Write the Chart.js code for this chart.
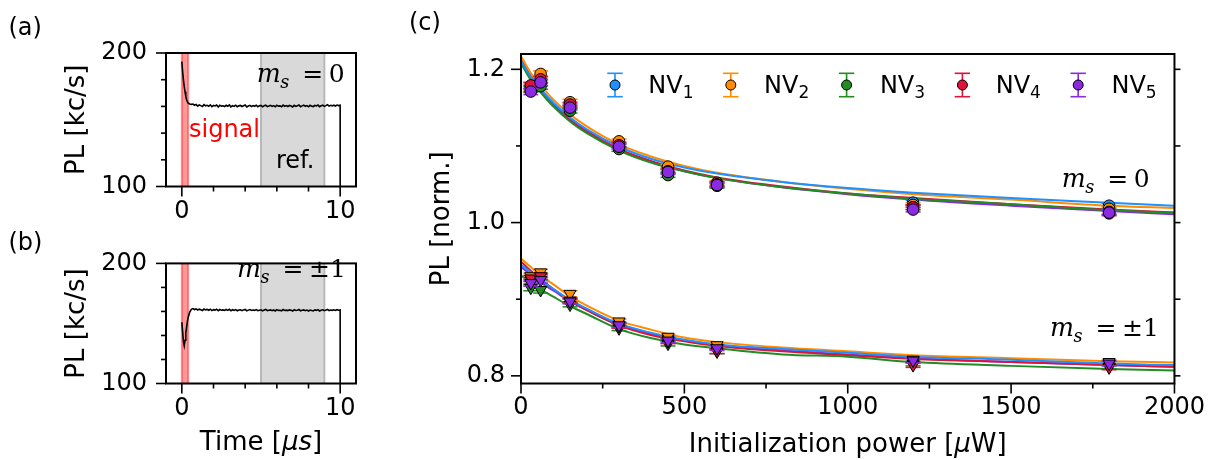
<!DOCTYPE html>
<html><head><meta charset="utf-8">
<script src="https://cdn.jsdelivr.net/npm/chart.js@4/dist/chart.umd.min.js"></script>
<style>
html,body{margin:0;padding:0;background:#fff;}
#wrap{position:relative;width:1215px;height:460px;overflow:hidden;background:#fff;}
canvas{position:absolute;}
</style></head><body>
<div id="wrap">
<canvas id="ca" width="400" height="230" style="left:0;top:0;width:400px;height:230px"></canvas>
<canvas id="cb" width="400" height="230" style="left:0;top:230px;width:400px;height:230px"></canvas>
<canvas id="cc" width="815" height="460" style="left:400px;top:0;width:815px;height:460px"></canvas>
</div>
<script>
// ---------------- DATA ----------------
// Panels (a),(b): PL time traces [kc/s] vs time [us]
const timeUs = [0,0.05,0.1,0.15,0.2,0.25,0.3,0.35,0.4,0.5,0.6,
0.7,0.8,0.9,1.0,1.1,1.2,1.3,1.4,1.5,1.6,
1.7,1.8,1.9,2.0,2.1,2.2,2.3,2.4,2.5,2.6,
2.7,2.8,2.9,3.0,3.1,3.2,3.3,3.4,3.5,3.6,
3.7,3.8,3.9,4.0,4.1,4.2,4.3,4.4,4.5,4.6,
4.7,4.8,4.9,5.0,5.1,5.2,5.3,5.4,5.5,5.6,
5.7,5.8,5.9,6.0,6.1,6.2,6.3,6.4,6.5,6.6,
6.7,6.8,6.9,7.0,7.1,7.2,7.3,7.4,7.5,7.6,
7.7,7.8,7.9,8.0,8.1,8.2,8.3,8.4,8.5,8.6,
8.7,8.8,8.9,9.0,9.1,9.2,9.3,9.4,9.5,9.6,
9.7,9.8,9.9,10.0,10.0];
const plMs0 = [193.5,186,180,175,171,167.5,165,163.5,162.5,161.8,161.5,
161.8,160.9,161.5,160.2,161.1,160.6,159.9,161.3,160.4,160.8,
160.1,161.2,159.8,160.7,160.3,161.0,159.6,160.9,160.2,160.5,
159.9,160.8,160.1,161.1,159.7,160.6,160.0,160.9,159.8,160.4,
160.7,159.9,160.5,161.0,159.6,160.3,160.8,159.9,160.6,160.1,
160.9,159.8,160.4,160.7,159.7,160.5,161.0,159.9,160.3,160.8,
160.0,160.6,159.7,160.9,160.2,160.4,159.8,161.0,160.1,160.6,
159.9,160.7,160.3,159.6,160.8,160.0,160.5,161.1,159.8,160.4,
160.9,160.1,160.6,159.7,160.8,160.2,159.9,160.7,160.4,161.0,
159.8,160.5,160.9,160.0,160.6,161.3,160.2,160.8,160.4,160.9,
160.3,161.0,160.6,160.9,0];
const plMs1 = [151,143,135,131.5,136,142,147,151.5,155,159.5,161.8,
162.4,161.6,162.1,161.2,161.9,161.4,160.8,162.0,161.3,161.7,
161.0,161.9,160.7,161.5,161.1,161.8,160.6,161.6,161.0,161.3,
160.8,161.6,160.9,161.8,160.5,161.4,160.9,161.5,160.6,161.2,
161.4,160.7,161.3,161.7,160.5,161.1,161.6,160.8,161.2,160.9,
161.5,160.6,161.0,161.4,160.5,161.2,161.7,160.7,161.0,161.3,
160.6,161.2,160.4,161.5,160.9,161.0,160.5,161.6,160.8,161.1,
160.7,161.3,160.9,160.3,161.4,160.8,161.0,161.6,160.5,160.9,
161.3,160.6,161.1,160.4,161.2,160.8,160.5,161.3,160.9,161.5,
160.4,161.0,161.4,160.6,161.1,161.7,160.7,161.2,160.9,161.4,
160.8,161.5,161.0,161.3,0];
const signalWindowUs = [0, 0.4];
const refWindowUs = [5, 9];
const traceXTicksMajor = [0, 10];
const traceXTicksMinor = [2, 4, 6, 8];
const traceYTicksMajor = [100, 200];
const traceYTicksMinor = [120, 140, 160, 180];

// Panel (c): normalised PL vs initialization power [uW]
const nvNames = ['NV1','NV2','NV3','NV4','NV5'];
const powerUW = [30, 60, 150, 300, 450, 600, 1200, 1800];
const nv1Ms0 = [1.175, 1.182, 1.152, 1.102, 1.069, 1.051, 1.026, 1.022];
const nv2Ms0 = [1.177, 1.194, 1.157, 1.106, 1.073, 1.052, 1.023, 1.018];
const nv3Ms0 = [1.174, 1.178, 1.146, 1.096, 1.062, 1.048, 1.020, 1.014];
const nv4Ms0 = [1.179, 1.187, 1.154, 1.101, 1.067, 1.050, 1.020, 1.012];
const nv5Ms0 = [1.171, 1.183, 1.150, 1.099, 1.066, 1.049, 1.017, 1.013];
const nv1Ms1 = [0.924, 0.928, 0.899, 0.867, 0.848, 0.837, 0.820, 0.816];
const nv2Ms1 = [0.930, 0.935, 0.907, 0.871, 0.851, 0.840, 0.821, 0.818];
const nv3Ms1 = [0.915, 0.912, 0.893, 0.862, 0.842, 0.832, 0.816, 0.812];
const nv4Ms1 = [0.927, 0.930, 0.898, 0.865, 0.845, 0.832, 0.814, 0.811];
const nv5Ms1 = [0.921, 0.925, 0.897, 0.866, 0.846, 0.836, 0.820, 0.816];
const nv1Err = [0.004, 0.004, 0.003, 0.003, 0.003, 0.003, 0.003, 0.003];
const nv2Err = [0.004, 0.004, 0.004, 0.003, 0.003, 0.003, 0.003, 0.003];
const nv3Err = [0.004, 0.004, 0.003, 0.003, 0.003, 0.003, 0.003, 0.003];
const nv4Err = [0.004, 0.004, 0.003, 0.003, 0.003, 0.003, 0.003, 0.003];
const nv5Err = [0.004, 0.004, 0.003, 0.003, 0.003, 0.003, 0.003, 0.003];
// fitted curves
const fitPowerUW = [0, 30, 60, 100, 150, 200, 300, 400, 500, 600, 800, 1000, 1200, 1500, 1800, 2000];
const nv1FitMs0 = [1.211, 1.190, 1.174, 1.156, 1.137, 1.122, 1.099, 1.083, 1.072, 1.064, 1.053, 1.045, 1.039, 1.032, 1.026, 1.022];
const nv2FitMs0 = [1.217, 1.195, 1.179, 1.160, 1.141, 1.126, 1.102, 1.086, 1.074, 1.065, 1.053, 1.044, 1.037, 1.030, 1.022, 1.019];
const nv3FitMs0 = [1.208, 1.186, 1.170, 1.151, 1.132, 1.117, 1.094, 1.078, 1.067, 1.058, 1.046, 1.038, 1.031, 1.024, 1.016, 1.013];
const nv4FitMs0 = [1.213, 1.191, 1.174, 1.155, 1.135, 1.120, 1.096, 1.080, 1.068, 1.059, 1.047, 1.038, 1.032, 1.024, 1.017, 1.013];
const nv5FitMs0 = [1.210, 1.189, 1.172, 1.153, 1.134, 1.119, 1.095, 1.079, 1.067, 1.058, 1.046, 1.037, 1.030, 1.022, 1.015, 1.011];
const nv1FitMs1 = [0.945, 0.935, 0.925, 0.913, 0.899, 0.888, 0.868, 0.856, 0.847, 0.841, 0.835, 0.830, 0.825, 0.821, 0.816, 0.814];
const nv2FitMs1 = [0.953, 0.942, 0.931, 0.919, 0.904, 0.892, 0.872, 0.860, 0.850, 0.844, 0.837, 0.832, 0.827, 0.823, 0.819, 0.8175];
const nv3FitMs1 = [0.931, 0.922, 0.913, 0.903, 0.891, 0.881, 0.861, 0.849, 0.841, 0.836, 0.828, 0.825, 0.818, 0.813, 0.809, 0.807];
const nv4FitMs1 = [0.949, 0.937, 0.926, 0.913, 0.898, 0.886, 0.866, 0.853, 0.845, 0.839, 0.832, 0.827, 0.822, 0.818, 0.814, 0.812];
const nv5FitMs1 = [0.942, 0.932, 0.922, 0.911, 0.897, 0.886, 0.866, 0.854, 0.846, 0.840, 0.833, 0.828, 0.823, 0.818, 0.814, 0.812];
const powerTicksMajor = [0, 500, 1000, 1500, 2000];
const powerTicksMinor = [250, 750, 1250, 1750];
const plTicksMajor = [0.8, 1.0, 1.2];
const plTicksMinor = [0.9, 1.1];

// ---------------- STYLE / HELPERS ----------------
const nvColors = ['#1E90FF', '#FF8C00', '#228B22', '#DC143C', '#8A2BE2'];
const SANS = "'DejaVu Sans', sans-serif";
const SERIF = "'DejaVu Serif', serif";
Chart.defaults.font.family = SANS;
Chart.defaults.font.size = 24;
Chart.defaults.color = '#000';
Chart.defaults.animation = false;

function pairs(xs, ys) { return xs.map((x, i) => ({x: x, y: ys[i]})); }
function seg(ctx, x1, y1, x2, y2) { ctx.beginPath(); ctx.moveTo(x1, y1); ctx.lineTo(x2, y2); ctx.stroke(); }

function framePlugin(spec) {
  return { id: 'frame', afterDatasetsDraw(chart) {
    const ctx = chart.ctx, a = chart.chartArea, xs = chart.scales.x, ys = chart.scales.y;
    ctx.save(); ctx.strokeStyle = '#000'; ctx.lineWidth = 1.6;
    spec.xMajor.forEach(v => { const p = xs.getPixelForValue(v); seg(ctx, p, a.bottom, p, a.bottom + 10); });
    spec.xMinor.forEach(v => { const p = xs.getPixelForValue(v); seg(ctx, p, a.bottom, p, a.bottom + 5); });
    spec.yMajor.forEach(v => { const p = ys.getPixelForValue(v); seg(ctx, a.left - 10, p, a.left, p); });
    spec.yMinor.forEach(v => { const p = ys.getPixelForValue(v); seg(ctx, a.left - 5, p, a.left, p); });
    if (spec.right) spec.right.forEach(v => { const p = ys.getPixelForValue(v); seg(ctx, a.right, p, a.right + 6, p); });
    ctx.lineWidth = 2; ctx.strokeRect(a.left, a.top, a.right - a.left, a.bottom - a.top);
    ctx.restore();
  }};
}

function drawParts(ctx, parts, x, y, align) {
  let w = 0;
  parts.forEach(p => { ctx.font = p.font; p.w = ctx.measureText(p.t).width; w += p.w; });
  let cx = align === 'center' ? x - w / 2 : x;
  ctx.textAlign = 'left';
  parts.forEach(p => { ctx.font = p.font; ctx.fillText(p.t, cx, y + (p.dy || 0)); cx += p.w; });
}
function rotatedText(ctx, text, font, cx, cy) {
  ctx.save(); ctx.translate(cx, cy); ctx.rotate(-Math.PI / 2);
  ctx.font = font; ctx.textAlign = 'center'; ctx.textBaseline = 'middle'; ctx.fillStyle = '#000';
  ctx.fillText(text, 0, 0); ctx.restore();
}
// font size so that a glyph run gets a wanted width
function sizeFor(ctx, text, style, family, targetW) {
  ctx.font = style + ' 100px ' + family;
  return 100 * targetW / ctx.measureText(text).width;
}
function drawMs(ctx, x, yb, valueText) {
  ctx.save(); ctx.fillStyle = '#000'; ctx.textBaseline = 'alphabetic'; ctx.textAlign = 'left';
  const mSize = Math.min(30, sizeFor(ctx, 'm', 'italic', SERIF, 24));
  ctx.font = 'italic ' + mSize.toFixed(1) + 'px ' + SERIF; ctx.fillText('m', x, yb);
  ctx.font = 'italic ' + (mSize * 0.7).toFixed(1) + 'px ' + SERIF; ctx.fillText('s', x + 23.5, yb + 6);
  ctx.font = '300 25px ' + SERIF; ctx.textAlign = 'center'; ctx.fillText('=', x + 56, yb);
  ctx.textAlign = 'left'; ctx.fillText(valueText, x + 72, yb);
  ctx.restore();
}
function spanPlugin() {
  return { id: 'spans', beforeDatasetsDraw(chart) {
    const ctx = chart.ctx, a = chart.chartArea, xs = chart.scales.x;
    ctx.save();
    const r0 = xs.getPixelForValue(refWindowUs[0]), r1 = xs.getPixelForValue(refWindowUs[1]);
    ctx.fillStyle = '#d9d9d9'; ctx.fillRect(r0, a.top, r1 - r0, a.bottom - a.top);
    ctx.strokeStyle = '#b8b8b8'; ctx.lineWidth = 2;
    seg(ctx, r0, a.top, r0, a.bottom); seg(ctx, r1, a.top, r1, a.bottom);
    const s0 = xs.getPixelForValue(signalWindowUs[0]), s1 = xs.getPixelForValue(signalWindowUs[1]);
    ctx.fillStyle = 'rgba(255,70,70,0.55)'; ctx.fillRect(s0, a.top, s1 - s0, a.bottom - a.top);
    ctx.strokeStyle = 'rgba(255,40,40,0.5)'; ctx.lineWidth = 2;
    seg(ctx, s0, a.top, s0, a.bottom); seg(ctx, s1, a.top, s1, a.bottom);
    ctx.restore();
  }};
}

function traceOptions(padTop, xHeight) {
  return {
    responsive: false, animation: false,
    layout: {padding: {left: 0, top: padTop, right: 44, bottom: 0}},
    plugins: {legend: {display: false}, tooltip: {enabled: false}},
    scales: {
      x: {type: 'linear', min: -1, max: 11, grid: {display: false, drawTicks: false}, border: {display: false},
          ticks: {padding: 11, autoSkip: false, maxRotation: 0, minRotation: 0, font: {size: 24}, callback: v => String(v)},
          afterBuildTicks: s => { s.ticks = traceXTicksMajor.map(v => ({value: v})); },
          afterFit: s => { s.height = xHeight; }},
      y: {type: 'linear', min: 100, max: 200, grid: {display: false, drawTicks: false}, border: {display: false},
          ticks: {padding: 19, autoSkip: false, font: {size: 24}, callback: v => String(v)},
          afterBuildTicks: s => { s.ticks = traceYTicksMajor.map(v => ({value: v})); },
          afterFit: s => { s.width = 166; }}
    }
  };
}
const traceFrame = {xMajor: traceXTicksMajor, xMinor: traceXTicksMinor, yMajor: traceYTicksMajor, yMinor: traceYTicksMinor};

// ---------- Panel (a) ----------
new Chart(document.getElementById('ca'), {
  type: 'scatter',
  data: {datasets: [{data: pairs(timeUs, plMs0), showLine: true, borderColor: '#000', borderWidth: 1.6, pointRadius: 0, tension: 0}]},
  options: traceOptions(53, 43.5),
  plugins: [spanPlugin(), framePlugin(traceFrame), {id: 'txtA', afterDraw(chart) {
    const ctx = chart.ctx; const a = chart.chartArea;
    ctx.save(); ctx.fillStyle = '#000'; ctx.textBaseline = 'alphabetic'; ctx.textAlign = 'left';
    ctx.font = '24px ' + SANS; ctx.fillText('(a)', 8.5, 35);
    ctx.fillStyle = '#ff0000'; ctx.fillText('signal', 189, 136.5);
    ctx.fillStyle = '#000'; ctx.fillText('ref.', 276, 168);
    ctx.restore();
    drawMs(ctx, 256.7, 82, '0');
    rotatedText(ctx, 'PL [kc/s]', '26px ' + SANS, 77.5, (a.top + a.bottom) / 2);
  }}]
});

// ---------- Panel (b) ----------
new Chart(document.getElementById('cb'), {
  type: 'scatter',
  data: {datasets: [{data: pairs(timeUs, plMs1), showLine: true, borderColor: '#000', borderWidth: 1.6, pointRadius: 0, tension: 0}]},
  options: traceOptions(20, 76.5),
  plugins: [spanPlugin(), framePlugin(traceFrame), {id: 'txtB', afterDraw(chart) {
    const ctx = chart.ctx; const a = chart.chartArea;
    ctx.save(); ctx.fillStyle = '#000'; ctx.textBaseline = 'alphabetic'; ctx.textAlign = 'left';
    ctx.font = '24px ' + SANS; ctx.fillText('(b)', 8.5, 20);
    drawParts(ctx, [{t: 'Time [', font: '26px ' + SANS}, {t: 'μs', font: 'italic 26px ' + SANS}, {t: ']', font: '26px ' + SANS}],
      (a.left + a.right) / 2, 220, 'center');
    ctx.restore();
    drawMs(ctx, 237, 47, '±1');
    rotatedText(ctx, 'PL [kc/s]', '26px ' + SANS, 77.5, (a.top + a.bottom) / 2);
  }}]
});

// ---------- Panel (c) ----------
const ms0Series = [nv1Ms0, nv2Ms0, nv3Ms0, nv4Ms0, nv5Ms0];
const ms1Series = [nv1Ms1, nv2Ms1, nv3Ms1, nv4Ms1, nv5Ms1];
const errSeries = [nv1Err, nv2Err, nv3Err, nv4Err, nv5Err];
const fit0Series = [nv1FitMs0, nv2FitMs0, nv3FitMs0, nv4FitMs0, nv5FitMs0];
const fit1Series = [nv1FitMs1, nv2FitMs1, nv3FitMs1, nv4FitMs1, nv5FitMs1];

const cDatasets = [];
for (let i = 0; i < 5; i++) {
  cDatasets.push({data: pairs(fitPowerUW, fit0Series[i]), showLine: true, borderColor: nvColors[i], borderWidth: 2,
    pointRadius: 0, cubicInterpolationMode: 'monotone', order: 20});
  cDatasets.push({data: pairs(fitPowerUW, fit1Series[i]), showLine: true, borderColor: nvColors[i], borderWidth: 2,
    pointRadius: 0, cubicInterpolationMode: 'monotone', order: 20});
}
for (let i = 0; i < 5; i++) {
  cDatasets.push({label: nvNames[i], data: pairs(powerUW, ms0Series[i]), errors: errSeries[i], errColor: nvColors[i],
    showLine: false, pointStyle: 'circle', pointRadius: 5.8, pointBackgroundColor: nvColors[i],
    pointBorderColor: '#000', pointBorderWidth: 1, order: 10 - i});
  cDatasets.push({label: nvNames[i], data: pairs(powerUW, ms1Series[i]), errors: errSeries[i], errColor: nvColors[i],
    showLine: false, pointStyle: 'triangle', rotation: 180, pointRotation: 180, pointRadius: 7, pointBackgroundColor: nvColors[i],
    pointBorderColor: '#000', pointBorderWidth: 1, order: 10 - i});
}

const errorBarPlugin = {id: 'errbars', beforeDatasetDraw(chart, args) {
  const ds = chart.data.datasets[args.index];
  if (!ds.errors) return;
  const ctx = chart.ctx, ys = chart.scales.y;
  ctx.save(); ctx.strokeStyle = ds.errColor; ctx.lineWidth = 1.5;
  args.meta.data.forEach((pt, i) => {
    const v = ds.data[i].y, e = ds.errors[i];
    const y1 = ys.getPixelForValue(v - e), y2 = ys.getPixelForValue(v + e), x = pt.x;
    seg(ctx, x, y1, x, y2); seg(ctx, x - 7.5, y1, x + 7.5, y1); seg(ctx, x - 7.5, y2, x + 7.5, y2);
  });
  ctx.restore();
}};

const legendPlugin = {id: 'legendC', afterDraw(chart) {
  const ctx = chart.ctx;
  for (let i = 0; i < 5; i++) {
    const cx = 215 + i * 115.8, cy = 85;
    ctx.save();
    ctx.strokeStyle = nvColors[i]; ctx.lineWidth = 1.6;
    seg(ctx, cx, 73.3, cx, 96.7); seg(ctx, cx - 7.7, 73.3, cx + 7.7, 73.3); seg(ctx, cx - 7.7, 96.7, cx + 7.7, 96.7);
    ctx.beginPath(); ctx.arc(cx, cy, 5, 0, Math.PI * 2); ctx.fillStyle = nvColors[i]; ctx.fill();
    ctx.strokeStyle = '#000'; ctx.lineWidth = 1; ctx.stroke();
    ctx.fillStyle = '#000'; ctx.textBaseline = 'alphabetic';
    const name = nvNames[i];
    drawParts(ctx, [{t: name.slice(0, 2), font: '24px ' + SANS}, {t: name.slice(2), font: '17px ' + SANS, dy: 5}], cx + 33.3, 93.3, 'left');
    ctx.restore();
  }
}};

new Chart(document.getElementById('cc'), {
  type: 'scatter',
  data: {datasets: cDatasets},
  options: {
    responsive: false, animation: false,
    layout: {padding: {left: 0, top: 54, right: 37, bottom: 0}},
    plugins: {legend: {display: false}, tooltip: {enabled: false}},
    scales: {
      x: {type: 'linear', min: 0, max: 2000, grid: {display: false, drawTicks: false}, border: {display: false},
          ticks: {padding: 10, autoSkip: false, maxRotation: 0, minRotation: 0, font: {size: 24}, callback: v => String(v)},
          afterBuildTicks: s => { s.ticks = powerTicksMajor.map(v => ({value: v})); },
          afterFit: s => { s.height = 76.5; }},
      y: {type: 'linear', min: 0.79, max: 1.22, grid: {display: false, drawTicks: false}, border: {display: false},
          ticks: {padding: 16, autoSkip: false, font: {size: 24}, callback: v => Number(v).toFixed(1)},
          afterBuildTicks: s => { s.ticks = plTicksMajor.map(v => ({value: v})); },
          afterFit: s => { s.width = 121; }}
    }
  },
  plugins: [errorBarPlugin, framePlugin({xMajor: powerTicksMajor, xMinor: powerTicksMinor, yMajor: plTicksMajor, yMinor: plTicksMinor,
      right: plTicksMajor.concat(plTicksMinor)}), legendPlugin, {id: 'txtC', afterDraw(chart) {
    const ctx = chart.ctx; const a = chart.chartArea;
    ctx.save(); ctx.fillStyle = '#000'; ctx.textBaseline = 'alphabetic'; ctx.textAlign = 'left';
    ctx.font = '24px ' + SANS; ctx.fillText('(c)', 9, 30);
    drawParts(ctx, [{t: 'Initialization power [', font: '26px ' + SANS}, {t: 'μ', font: 'italic 26px ' + SANS}, {t: 'W]', font: '26px ' + SANS}],
      (a.left + a.right) / 2, 452, 'center');
    ctx.restore();
    drawMs(ctx, 661.7, 187, '0');
    drawMs(ctx, 650, 336, '±1');
    rotatedText(ctx, 'PL [norm.]', '26px ' + SANS, 42, (a.top + a.bottom) / 2);
  }}]
});
</script>
</body></html>
